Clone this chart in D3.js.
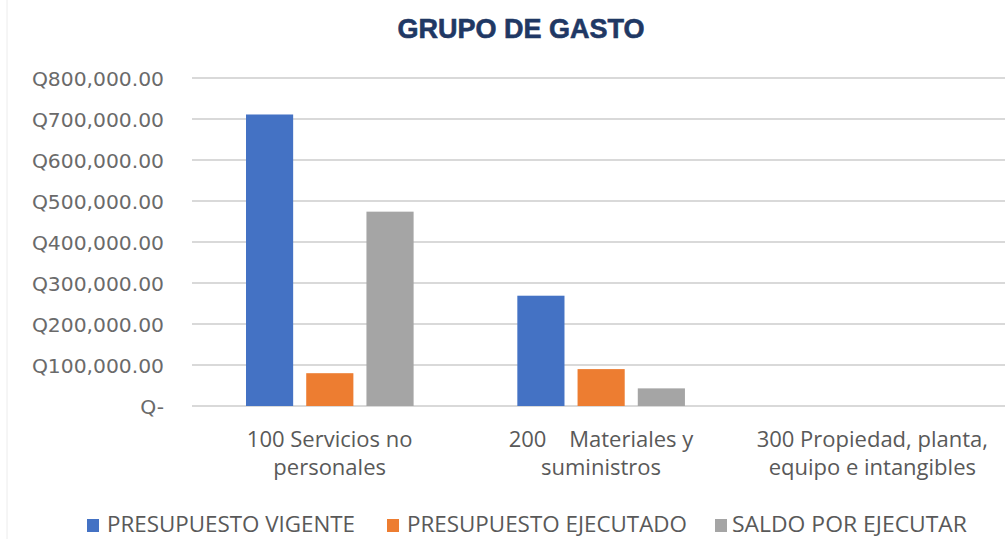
<!DOCTYPE html>
<html>
<head>
<meta charset="utf-8">
<script src="https://cdn.jsdelivr.net/npm/d3@7"></script>
<style>
  html, body { margin: 0; padding: 0; background: #ffffff; }
  svg { display: block; }
</style>
</head>
<body>
<svg id="chart" width="1005" height="539"></svg>
<script>
// ---- Data ----
const categories = [
  ["100 Servicios no", "personales"],
  ["200    Materiales y", "suministros"],
  ["300 Propiedad, planta,", "equipo e intangibles"]
];
const seriesNames = ["PRESUPUESTO VIGENTE", "PRESUPUESTO EJECUTADO", "SALDO POR EJECUTAR"];
const presupuestoVigente = [711000, 269000, 0];
const presupuestoEjecutado = [80000, 90000, 0];
const saldoPorEjecutar = [474000, 43000, 0];
const yTicks = [0, 100000, 200000, 300000, 400000, 500000, 600000, 700000, 800000];
const colors = ["#4472C4", "#ED7D31", "#A5A5A5"];

const seriesValues = [presupuestoVigente, presupuestoEjecutado, saldoPorEjecutar];
const catKeys = categories.map((c, i) => "c" + i);

const svg = d3.select("#chart");

// left faint border
svg.append("line").attr("x1", 7).attr("x2", 7).attr("y1", 0).attr("y2", 539)
  .attr("stroke", "#ececec").attr("stroke-width", 1);

// Title
svg.append("text")
  .attr("x", 521).attr("y", 38)
  .attr("text-anchor", "middle")
  .attr("font-family", "'Liberation Sans', Arial, sans-serif")
  .attr("font-weight", "bold")
  .attr("font-size", 27)
  .attr("fill", "#1F3864")
  .attr("stroke", "#1F3864").attr("stroke-width", 0.6)
  .text("GRUPO DE GASTO");

// Scales
const x = d3.scaleBand().domain(catKeys).range([194, 1008]).paddingInner(0).paddingOuter(0);
const xSub = d3.scaleBand().domain(seriesNames).range([52, 219.6]).paddingInner(0.217).paddingOuter(0);
const y = d3.scaleLinear().domain([0, 800000]).range([406, 78]);

// Gridlines
svg.append("g").selectAll("line").data(yTicks).join("line")
  .attr("x1", 192).attr("x2", 1005)
  .attr("y1", d => y(d)).attr("y2", d => y(d))
  .attr("stroke", "#d9d9d9").attr("stroke-width", 2);

// Y axis labels
const fmt = d => d === 0 ? "Q-" : "Q" + d3.format(",.2f")(d);
const yAxis = d3.axisLeft(y).tickValues(yTicks).tickFormat(fmt).tickSize(0).tickPadding(0);
const gy = svg.append("g").attr("transform", "translate(164,0)").call(yAxis);
gy.select(".domain").remove();
gy.selectAll("text")
  .attr("font-family", "'DejaVu Sans', sans-serif")
  .attr("font-size", 20.3)
  .attr("fill", "#6a6a6a")
  .attr("dy", "0.36em");

// Bars
const groups = svg.append("g").selectAll("g").data(catKeys).join("g")
  .attr("transform", d => `translate(${x(d)},0)`);
groups.selectAll("rect")
  .data((d, i) => seriesNames.map((s, j) => ({ s, j, v: seriesValues[j][i] })))
  .join("rect")
  .attr("x", d => xSub(d.s))
  .attr("width", xSub.bandwidth())
  .attr("y", d => y(d.v))
  .attr("height", d => y(0) - y(d.v))
  .attr("fill", d => colors[d.j]);

// X labels
const xl = svg.append("g").selectAll("text").data(categories).join("text")
  .attr("x", (d, i) => x(catKeys[i]) + x.bandwidth() / 2)
  .attr("y", 447)
  .attr("text-anchor", "middle")
  .attr("font-family", "'Open Sans', sans-serif")
  .attr("font-size", 22)
  .attr("fill", "#595959")
  .style("white-space", "pre");
xl.selectAll("tspan").data(d => d).join("tspan")
  .attr("x", function () { return d3.select(this.parentNode).attr("x"); })
  .attr("dy", (d, i) => i === 0 ? 0 : 28)
  .text(d => d);

// Legend
const legendX = [87, 387, 715];
const legendTextX = [20, 20, 17];
const legendW = [248, 280, 235];
const lg = svg.append("g").selectAll("g").data(seriesNames).join("g")
  .attr("transform", (d, i) => `translate(${legendX[i]},532)`);
lg.append("rect").attr("x", 0).attr("y", -13).attr("width", 12).attr("height", 13)
  .attr("fill", (d, i) => colors[i]);
lg.append("text").attr("x", (d, i) => legendTextX[i]).attr("y", 0)
  .attr("font-family", "'Open Sans', sans-serif")
  .attr("font-size", 21)
  .attr("textLength", (d, i) => legendW[i])
  .attr("lengthAdjust", "spacingAndGlyphs")
  .attr("fill", "#595959")
  .text(d => d);
</script>
</body>
</html>
